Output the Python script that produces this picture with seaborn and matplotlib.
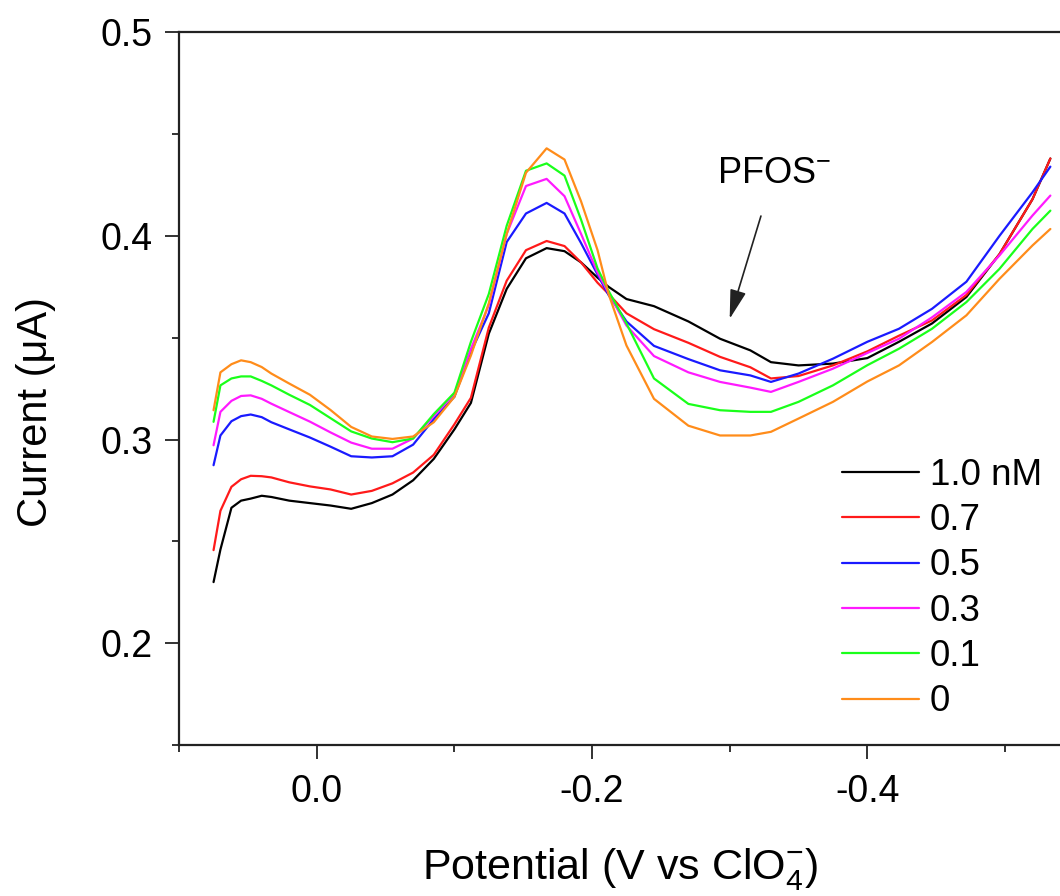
import numpy as np
import pandas as pd
import matplotlib
matplotlib.use('Agg')
import matplotlib.pyplot as plt
import seaborn as sns
from matplotlib.ticker import MultipleLocator

# potential (V vs ClO4-), shared by all traces
potential = [0.075, 0.070, 0.062, 0.055, 0.048, 0.040, 0.033, 0.020, 0.005, -0.010,
             -0.025, -0.040, -0.055, -0.070, -0.085, -0.100, -0.112, -0.125, -0.138, -0.152,
             -0.167, -0.180, -0.192, -0.204, -0.212, -0.225, -0.245, -0.270, -0.293, -0.315,
             -0.330, -0.350, -0.375, -0.400, -0.423, -0.447, -0.472, -0.496, -0.520, -0.533]

# current (uA) for each PFOS concentration
i_10 = [0.230, 0.246, 0.2665, 0.270, 0.271, 0.2724, 0.2718, 0.270, 0.2688, 0.2676,
        0.266, 0.2688, 0.273, 0.280, 0.2905, 0.305, 0.318, 0.352, 0.374, 0.389,
        0.394, 0.3925, 0.387, 0.3795, 0.375, 0.369, 0.3655, 0.358, 0.3495, 0.3438,
        0.338, 0.3364, 0.3373, 0.340, 0.348, 0.357, 0.370, 0.391, 0.418, 0.438]
i_07 = [0.2457, 0.265, 0.2768, 0.2805, 0.2822, 0.282, 0.2814, 0.279, 0.277, 0.2755,
        0.273, 0.2748, 0.2785, 0.2838, 0.2925, 0.3075, 0.3205, 0.355, 0.378, 0.393,
        0.3975, 0.395, 0.387, 0.377, 0.3715, 0.362, 0.3542, 0.3475, 0.3406, 0.3355,
        0.330, 0.3312, 0.3364, 0.3433, 0.351, 0.3585, 0.371, 0.391, 0.418, 0.438]
i_05 = [0.2874, 0.302, 0.309, 0.3115, 0.3123, 0.311, 0.3085, 0.305, 0.301, 0.2965,
        0.2918, 0.2912, 0.2918, 0.2975, 0.310, 0.321, 0.343, 0.362, 0.397, 0.411,
        0.4162, 0.411, 0.3965, 0.381, 0.371, 0.358, 0.346, 0.3395, 0.334, 0.3315,
        0.3283, 0.3324, 0.3397, 0.348, 0.3544, 0.3642, 0.3775, 0.400, 0.4214, 0.434]
i_03 = [0.2972, 0.3136, 0.319, 0.3214, 0.3217, 0.320, 0.3176, 0.3135, 0.3088, 0.3035,
        0.2985, 0.2955, 0.2955, 0.3005, 0.3115, 0.3225, 0.3445, 0.366, 0.401, 0.4245,
        0.428, 0.4195, 0.401, 0.382, 0.372, 0.356, 0.341, 0.333, 0.3283, 0.3255,
        0.3234, 0.3283, 0.3348, 0.3425, 0.3495, 0.360, 0.3725, 0.3904, 0.410, 0.4198]
i_01 = [0.3087, 0.3266, 0.330, 0.331, 0.331, 0.3288, 0.3266, 0.322, 0.317, 0.3105,
        0.304, 0.3005, 0.2987, 0.3005, 0.3125, 0.323, 0.348, 0.3715, 0.405, 0.432,
        0.4356, 0.4296, 0.408, 0.384, 0.373, 0.357, 0.330, 0.3175, 0.3144, 0.3136,
        0.3136, 0.3185, 0.3266, 0.3365, 0.3446, 0.3544, 0.3675, 0.3838, 0.4034, 0.4124]
i_00 = [0.3144, 0.333, 0.337, 0.3389, 0.338, 0.3356, 0.3324, 0.3275, 0.322, 0.3145,
        0.3062, 0.3015, 0.3003, 0.3015, 0.3085, 0.321, 0.3413, 0.367, 0.401, 0.431,
        0.443, 0.4375, 0.417, 0.393, 0.3715, 0.3462, 0.320, 0.3068, 0.302, 0.302,
        0.3038, 0.3103, 0.3185, 0.3285, 0.3364, 0.3479, 0.361, 0.3789, 0.3953, 0.4034]

labels = ['1.0 nM', '0.7', '0.5', '0.3', '0.1', '0']
colors = ['#000000', '#ff1a1a', '#1a1aff', '#ff1aff', '#1aff1a', '#ff8c1a']
currents = [i_10, i_07, i_05, i_03, i_01, i_00]

sns.set_style('ticks')
plt.rcParams['font.family'] = ['Liberation Sans', 'DejaVu Sans']
plt.rcParams['mathtext.default'] = 'regular'
plt.rcParams['text.color'] = 'black'
plt.rcParams['axes.labelcolor'] = 'black'
plt.rcParams['xtick.labelcolor'] = 'black'
plt.rcParams['ytick.labelcolor'] = 'black'

fig = plt.figure(figsize=(10.6, 8.96), dpi=100)
ax = fig.add_axes([0.169, 0.1685, 0.831, 0.7955])

for lab, col, cur in zip(labels, colors, currents):
    df = pd.DataFrame({'potential': potential, 'current': cur})
    sns.lineplot(data=df, x='potential', y='current', color=col, label=lab,
                 sort=False, linewidth=1.6, ax=ax)

ax.set_xlim(0.1, -0.54)
ax.set_ylim(0.15, 0.5)
ax.xaxis.set_minor_locator(MultipleLocator(0.1))
ax.yaxis.set_minor_locator(MultipleLocator(0.05))
ax.set_xticks([0.0, -0.2, -0.4])
ax.set_xticklabels(['0.0', '-0.2', '-0.4'])
ax.set_yticks([0.2, 0.3, 0.4, 0.5])
ax.set_yticklabels(['0.2', '0.3', '0.4', '0.5'])
ax.tick_params(which='major', length=10, width=1.3, labelsize=27, color='#222222')
ax.tick_params(which='minor', length=5, width=1.3, color='#222222')
ax.tick_params(axis='x', which='major', pad=11)
ax.tick_params(axis='y', which='major', pad=9)

ax.spines['right'].set_visible(False)
for s in ['left', 'bottom', 'top']:
    ax.spines[s].set_linewidth(1.6)
    ax.spines[s].set_color('#222222')

ax.set_xlabel('Potential (V vs ClO$_4^{-}$)', fontsize=31, labelpad=26)
ax.set_ylabel('Current (\u03bcA)', fontsize=30)
ax.yaxis.set_label_coords(-0.14, 0.467)

ax.annotate('PFOS$^{-}$', xy=(-0.300, 0.3593), xytext=(-0.332, 0.4304),
            fontsize=26, ha='center', va='center',
            arrowprops=dict(arrowstyle='-|>,head_length=0.9,head_width=0.25',
                            color='#222222', lw=1.2,
                            shrinkA=16, shrinkB=0, mutation_scale=20))

ax.legend(loc='upper left', bbox_to_anchor=(0.794, 0.489), bbox_transform=fig.transFigure,
          frameon=False, fontsize=26.5, handlelength=2.1, handletextpad=0.3,
          labelspacing=0.28, borderpad=0, borderaxespad=0)

fig.savefig('out.png', dpi=100)
